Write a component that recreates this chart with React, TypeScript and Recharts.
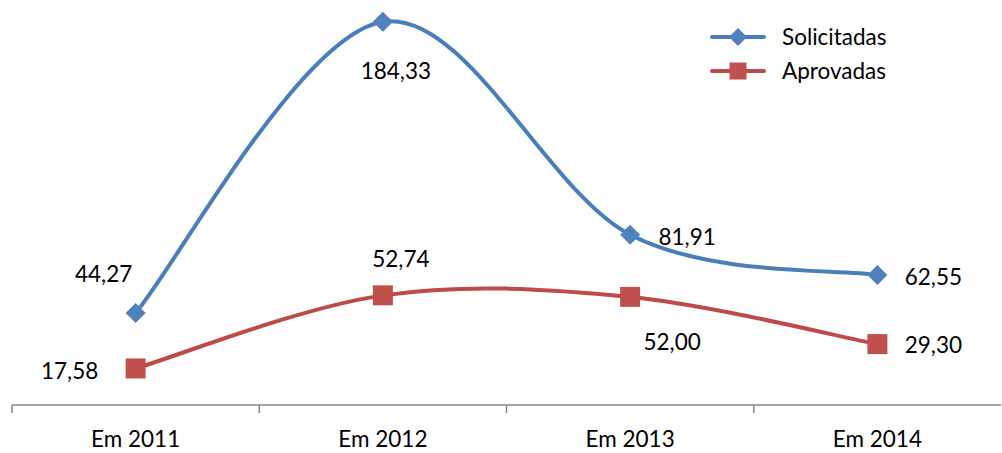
import React from "react";
import { LineChart, Line, XAxis, YAxis, Legend, LabelList } from "recharts";

const categories = ["Em 2011", "Em 2012", "Em 2013", "Em 2014"];
const solicitadas = [44.27, 184.33, 81.91, 62.55];
const aprovadas = [17.58, 52.74, 52.0, 29.3];

// label placement relative to the point: [dx of text centre, dy of baseline]
const solicitadasLabelPos = [
  [-32, -31],
  [13, 57],
  [57, 10],
  [56, 10],
];
const aprovadasLabelPos = [
  [-66, 11],
  [18, -28],
  [42, 53],
  [56, 9],
];

const BLUE_LINE = "#4A7EBB";
const BLUE_MARK = "#4F81BD";
const RED_LINE = "#BE4B48";
const RED_MARK = "#C0504D";
const AXIS = "#868686";
const FONT = "Lato, 'Open Sans', sans-serif";
const FONT_SIZE = 22.5;

const chartData = categories.map((name, i) => ({
  name,
  solicitadas: solicitadas[i],
  aprovadas: aprovadas[i],
}));

// Excel-like smoothed line (Catmull-Rom as cubic Bezier)
const excelCurve = (context: any) => {
  let pts: [number, number][] = [];
  return {
    areaStart() {},
    areaEnd() {},
    lineStart() {
      pts = [];
    },
    lineEnd() {
      if (!pts.length) return;
      context.moveTo(pts[0][0], pts[0][1]);
      for (let i = 0; i < pts.length - 1; i++) {
        const p0 = pts[Math.max(i - 1, 0)];
        const p1 = pts[i];
        const p2 = pts[i + 1];
        const p3 = pts[Math.min(i + 2, pts.length - 1)];
        context.bezierCurveTo(
          p1[0] + (p2[0] - p0[0]) / 6,
          p1[1] + (p2[1] - p0[1]) / 6,
          p2[0] - (p3[0] - p1[0]) / 6,
          p2[1] - (p3[1] - p1[1]) / 6,
          p2[0],
          p2[1]
        );
      }
    },
    point(x: number, y: number) {
      pts.push([x, y]);
    },
  };
};

const Diamond = (props: any) => {
  const { cx, cy, size = 10, color = BLUE_MARK } = props;
  if (cx == null || cy == null) return null;
  return (
    <polygon
      points={`${cx},${cy - size} ${cx + size},${cy} ${cx},${cy + size} ${cx - size},${cy}`}
      fill={color}
    />
  );
};

const Square = (props: any) => {
  const { cx, cy, size = 10, color = RED_MARK } = props;
  if (cx == null || cy == null) return null;
  return <rect x={cx - size} y={cy - size} width={size * 2} height={size * 2} fill={color} />;
};

const fmt = (v: number) => v.toFixed(2).replace(".", ",");

const makeLabel = (pos: number[][]) => (props: any) => {
  const { index, value, viewBox } = props;
  const x = props.x ?? viewBox?.x;
  const y = props.y ?? viewBox?.y;
  if (x == null || y == null) return null;
  const [dx, dy] = pos[index] || [0, 0];
  return (
    <text
      x={x + dx}
      y={y + dy}
      textAnchor="middle"
      fontFamily={FONT}
      fontSize={FONT_SIZE}
      fill="#000"
    >
      {fmt(Number(value))}
    </text>
  );
};

const CategoryTick = (props: any) => {
  const { x, y, payload } = props;
  const half = payload?.offset ?? 123.6;
  return (
    <g>
      <line x1={x - half} x2={x - half} y1={y} y2={y + 8} stroke={AXIS} strokeWidth={1.5} />
      <text x={x} y={y + 42} textAnchor="middle" fontFamily={FONT} fontSize={FONT_SIZE} fill="#000">
        {payload.value}
      </text>
    </g>
  );
};

const legendItems = [
  { label: "Solicitadas", color: BLUE_LINE, marker: "diamond" },
  { label: "Aprovadas", color: RED_LINE, marker: "square" },
];

const ChartLegend = () => (
  <div style={{ fontFamily: FONT, fontSize: FONT_SIZE, color: "#000" }}>
    {legendItems.map((it) => (
      <div key={it.label} style={{ display: "flex", alignItems: "center", height: 34 }}>
        <svg width={56} height={22} style={{ marginRight: 16 }}>
          <line x1={2} x2={54} y1={11} y2={11} stroke={it.color} strokeWidth={4} strokeLinecap="round" />
          {it.marker === "diamond" ? (
            <Diamond cx={28} cy={11} size={9} color={BLUE_MARK} />
          ) : (
            <Square cx={28} cy={11} size={8.5} color={RED_MARK} />
          )}
        </svg>
        <span style={{ lineHeight: "34px" }}>{it.label}</span>
      </div>
    ))}
  </div>
);

export default function App() {
  return (
    <div style={{ position: "absolute", left: 0, top: 0, background: "#fff" }}>
      <LineChart
        width={1002}
        height={453}
        data={chartData}
        margin={{ top: 10, right: 1, bottom: 0, left: 12 }}
      >
        <XAxis
          dataKey="name"
          scale="band"
          interval={0}
          height={48}
          tickSize={0}
          tickMargin={0}
          tickLine={false}
          axisLine={{ stroke: AXIS, strokeWidth: 1.5 }}
          tick={<CategoryTick />}
        />
        <YAxis hide type="number" domain={[0, 190]} />
        <Legend
          layout="vertical"
          align="center"
          verticalAlign="middle"
          content={<ChartLegend />}
          wrapperStyle={{ left: 710, top: 20, width: 260, height: 68 }}
        />
        <Line
          dataKey="solicitadas"
          name="Solicitadas"
          type={excelCurve as any}
          stroke={BLUE_LINE}
          strokeWidth={4}
          dot={<Diamond color={BLUE_MARK} />}
          activeDot={false}
          isAnimationActive={false}
        >
          <LabelList dataKey="solicitadas" content={makeLabel(solicitadasLabelPos)} />
        </Line>
        <Line
          dataKey="aprovadas"
          name="Aprovadas"
          type={excelCurve as any}
          stroke={RED_LINE}
          strokeWidth={4}
          dot={<Square color={RED_MARK} />}
          activeDot={false}
          isAnimationActive={false}
        >
          <LabelList dataKey="aprovadas" content={makeLabel(aprovadasLabelPos)} />
        </Line>
      </LineChart>
    </div>
  );
}
